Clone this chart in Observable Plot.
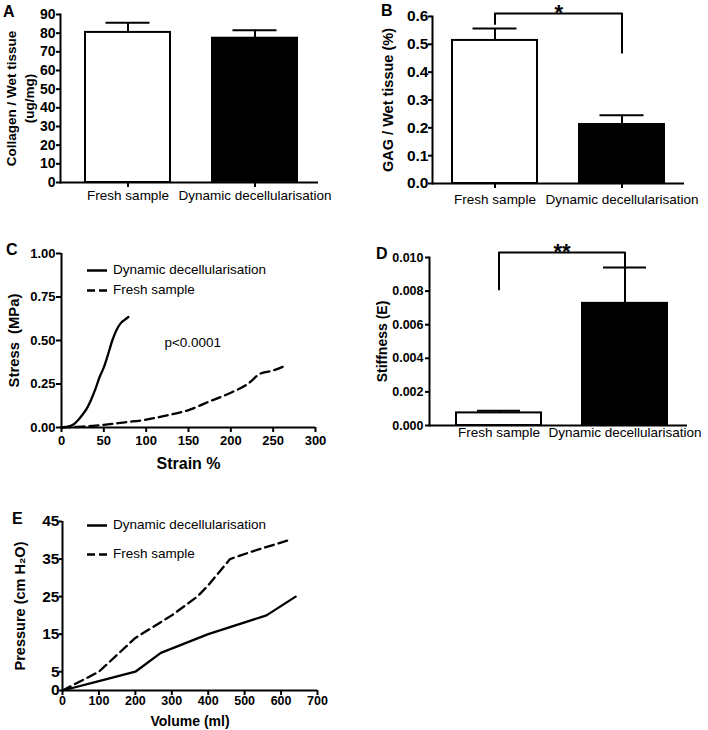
<!DOCTYPE html>
<html><head><meta charset="utf-8">
<script src="https://cdn.jsdelivr.net/npm/d3@7"></script>
<script src="https://cdn.jsdelivr.net/npm/@observablehq/plot@0.6"></script>
<style>
body{margin:0;background:#fff;}
#fig{position:relative;width:708px;height:730px;font-family:"Liberation Sans",Arial,sans-serif;color:#000;background:#fff;overflow:hidden;}
.panel{position:absolute;}
.letter{position:absolute;font-weight:bold;font-size:16px;line-height:16px;}
.leg{position:absolute;font-size:13.5px;line-height:16px;white-space:nowrap;padding-left:26px;}
.leg svg{position:absolute;left:0;top:7px;}
</style></head><body><div id="fig"></div>
<script>
// ---------- data ----------
const categories = ["Fresh sample", "Dynamic decellularisation"];

const collagenMean = [80.4, 77.3];
const collagenSem = [5.2, 4.3];
const collagenTicks = [0, 10, 20, 30, 40, 50, 60, 70, 80, 90];

const gagMean = [0.514, 0.212];
const gagSem = [0.043, 0.033];
const gagTicks = [0, 0.1, 0.2, 0.3, 0.4, 0.5, 0.6];
const gagBracket = [0.573, 0.611, 0.47];   // left foot, top, right foot
const gagStar = "*";

const stiffMean = [0.00075, 0.00727];
const stiffSem = [0.00013, 0.00213];
const stiffTicks = [0, 0.002, 0.004, 0.006, 0.008, 0.010];
const stiffBracket = [0.0081, 0.0103, 0.0094];
const stiffStar = "**";

const seriesNames = ["Dynamic decellularisation", "Fresh sample"];

const decelStrain = [0, 5, 10, 15, 20, 25, 30, 35, 40, 45, 50, 55, 60, 65, 70, 75, 79];
const decelStress = [0, 0.003, 0.008, 0.02, 0.045, 0.075, 0.11, 0.16, 0.22, 0.29, 0.345, 0.42, 0.5, 0.56, 0.6, 0.62, 0.635];
const freshStrain = [0, 25, 50, 75, 100, 125, 150, 175, 200, 220, 235, 248, 262];
const freshStress = [0, 0.005, 0.015, 0.03, 0.045, 0.07, 0.1, 0.15, 0.2, 0.25, 0.31, 0.325, 0.35];
const strainTicks = [0, 50, 100, 150, 200, 250, 300];
const stressTicks = [0, 0.25, 0.5, 0.75, 1];
const stressNote = {x: 155, y: 0.49, text: "p<0.0001"};

const decelVolume = [0, 100, 200, 270, 400, 560, 640];
const decelPressure = [0, 2.5, 5, 10, 15, 20, 25];
const freshVolume = [0, 100, 200, 300, 370, 400, 460, 520, 620];
const freshPressure = [0, 5, 14, 20, 25, 28, 35, 37, 40];
const volumeTicks = [0, 100, 200, 300, 400, 500, 600, 700];
const pressureTicks = [0, 5, 15, 25, 35, 45];

// ---------- helpers ----------
const FONT = "Liberation Sans, Arial, sans-serif";
const fig = document.getElementById("fig");

function place(node, left, top) {
  const d = document.createElement("div");
  d.className = "panel";
  d.style.left = left + "px";
  d.style.top = top + "px";
  d.appendChild(node);
  fig.appendChild(d);
}
function letter(t, left, top) {
  const d = document.createElement("div");
  d.className = "letter"; d.textContent = t;
  d.style.left = left + "px"; d.style.top = top + "px";
  fig.appendChild(d);
}
function legend(t, left, top, dashed) {
  const d = document.createElement("div");
  d.className = "leg";
  d.style.left = left + "px"; d.style.top = top + "px";
  d.innerHTML = `<svg width="20" height="3"><line x1="0" x2="20" y1="1.5" y2="1.5" stroke="black" stroke-width="2.5" ${dashed ? 'stroke-dasharray="8,4"' : ""}/></svg>`;
  d.appendChild(document.createTextNode(t));
  fig.appendChild(d);
}

function barPanel(o) {
  const data = categories.map((c, i) => ({cat: c, mean: o.means[i], sem: o.sems[i]}));
  const plotW = o.width - o.mL - o.mR;
  const step = plotW / (categories.length - o.pI + 2 * o.pO);
  const marks = [
    Plot.ruleX(data, {x: "cat", y1: "mean", y2: d => d.mean + d.sem, strokeWidth: 2}),
    Plot.tickY(data, {x: "cat", y: d => d.mean + d.sem, strokeWidth: 2, insetLeft: o.capInset, insetRight: o.capInset}),
    Plot.barY(data, {x: "cat", y: "mean", fill: "cat", stroke: "black", strokeWidth: 2}),
    Plot.ruleY([0], {strokeWidth: 2}),
    Plot.frame({anchor: "left", strokeWidth: 2}),
    Plot.axisY(o.yTicks, {tickFormat: o.yFormat, tickSize: 4, tickPadding: o.yTickPad ?? 2, fontWeight: "bold", fontSize: o.yTickFont || 13, strokeWidth: 2, label: null}),
    Plot.axisX({tickSize: o.xTickSize, tickPadding: o.xTickPad, fontSize: 13.5, fontWeight: "normal", strokeWidth: 2, label: null}),
    Plot.text([o.yLabel], {frameAnchor: "left", dx: o.labelDx, rotate: -90, fontWeight: "bold", fontSize: o.labelFont || 14, lineHeight: 1.3, textAnchor: "middle", lineAnchor: "middle"})
  ];
  if (o.bracket) {
    const b = o.bracket;
    const bd = [
      {cat: categories[0], y: b[0]}, {cat: categories[0], y: b[1]},
      {cat: categories[1], y: b[1]}, {cat: categories[1], y: b[2]}
    ];
    marks.push(Plot.line(bd, {x: "cat", y: "y", strokeWidth: 2}));
    marks.push(Plot.text([{cat: categories[0], y: b[1], t: o.star}], {x: "cat", y: "y", text: "t", dx: step / 2, dy: 7, lineAnchor: "bottom", fontSize: 22, fontWeight: "bold"}));
  }
  return Plot.plot({
    width: o.width, height: o.height,
    marginLeft: o.mL, marginRight: o.mR, marginTop: o.mT, marginBottom: o.mB,
    style: {fontFamily: FONT, color: "black", background: "transparent", overflow: "visible"},
    x: {domain: categories, type: "band", paddingInner: o.pI, paddingOuter: o.pO, align: o.align},
    y: {domain: o.yDomain},
    color: {domain: categories, range: ["white", "black"]},
    marks
  });
}

function linePanel(o) {
  const marks = [];
  o.series.forEach(s => {
    const data = s.x.map((x, i) => ({x, y: s.y[i]}));
    marks.push(Plot.line(data, {x: "x", y: "y", strokeWidth: 2.3, strokeDasharray: s.dash, curve: o.curve}));
  });
  marks.push(
    Plot.ruleY([0], {strokeWidth: 2}),
    Plot.ruleX([0], {strokeWidth: 2}),
    Plot.axisY(o.yTicks, {tickFormat: o.yFormat, tickSize: o.yTickSize, tickPadding: o.yTickPad, fontWeight: "bold", fontSize: o.yTickFont, strokeWidth: 2, label: null}),
    Plot.axisX(o.xTicks, {tickSize: 5, tickPadding: o.xTickPad, fontWeight: "bold", fontSize: o.xTickFont, strokeWidth: 2, label: null}),
    Plot.text([o.yLabel], {frameAnchor: "left", dx: o.yLabelDx, rotate: -90, fontWeight: "bold", fontSize: o.yLabelFont, textAnchor: "middle", lineAnchor: "middle"}),
    Plot.text([o.xLabel], {frameAnchor: "bottom", dy: o.xLabelDy, fontWeight: "bold", fontSize: o.xLabelFont, textAnchor: "middle", lineAnchor: "middle"})
  );
  if (o.note) marks.push(Plot.text([o.note], {x: "x", y: "y", text: "text", fontSize: 13.5}));
  return Plot.plot({
    width: o.width, height: o.height,
    marginLeft: o.mL, marginRight: o.mR, marginTop: o.mT, marginBottom: o.mB,
    style: {fontFamily: FONT, color: "black", background: "transparent", overflow: "visible"},
    x: {domain: o.xDomain},
    y: {domain: o.yDomain},
    marks
  });
}

// ---------- panel A ----------
place(barPanel({
  means: collagenMean, sems: collagenSem, yTicks: collagenTicks, yFormat: d3.format("d"), yDomain: [0, 90],
  width: 330, height: 215, mL: 60, mR: 12, mT: 14, mB: 33,
  pI: 0.331, pO: 0.181, align: 0.54, capInset: 20.5, xTickSize: 5, xTickPad: 3, yTickFont: 14, yTickPad: 1,
  yLabel: "Collagen / Wet tissue\n(ug/mg)", labelDx: -41, labelFont: 13.5
}), 0, 0);
letter("A", 3, 4);

// ---------- panel B ----------
place(barPanel({
  means: gagMean, sems: gagSem, yTicks: gagTicks, yFormat: d3.format(".1f"), yDomain: [0, 0.6],
  width: 340, height: 216, mL: 78, mR: 10, mT: 16, mB: 33,
  pI: 0.333, pO: 0.155, align: 0.506, capInset: 20.5, xTickSize: 5, xTickPad: 6, yTickFont: 15.5, yTickPad: 0,
  yLabel: "GAG / Wet tissue (%)", labelDx: -46, labelFont: 14.5,
  bracket: gagBracket, star: gagStar
}), 354, 0);
letter("B", 381, 3);

// ---------- panel C ----------
place(linePanel({
  series: [
    {x: decelStrain, y: decelStress, dash: null},
    {x: freshStrain, y: freshStress, dash: "9,5"}
  ],
  curve: "monotone-x",
  xDomain: [0, 300], yDomain: [0, 1], xTicks: strainTicks, yTicks: stressTicks, yFormat: d3.format(".2f"),
  width: 330, height: 250, mL: 61, mR: 15, mT: 23, mB: 53, xTickPad: 3, xTickFont: 13,
  yTickSize: 5, yTickPad: 1, yTickFont: 13,
  yLabel: "Stress\u00a0\u00a0(MPa)", yLabelDx: -47, yLabelFont: 14.8,
  xLabel: "Strain %", xLabelDy: 36, xLabelFont: 16,
  note: stressNote
}), 0, 230);
letter("C", 6, 242);
legend(seriesNames[0], 87, 262, false);
legend(seriesNames[1], 87, 282, true);

// ---------- panel D ----------
place(barPanel({
  means: stiffMean, sems: stiffSem, yTicks: stiffTicks, yFormat: d3.format(".3f"), yDomain: [0, 0.010],
  width: 340, height: 225, mL: 75, mR: 7, mT: 27, mB: 30,
  pI: 0.325, pO: 0.186, align: 0.574, capInset: 21, xTickSize: 0, xTickPad: 2, yTickFont: 12.5,
  yLabel: "Stiffness (E)", labelDx: -48, labelFont: 14,
  bracket: stiffBracket, star: stiffStar
}), 354, 230);
letter("D", 376, 246);

// ---------- panel E ----------
place(linePanel({
  series: [
    {x: decelVolume, y: decelPressure, dash: null},
    {x: freshVolume, y: freshPressure, dash: "9,5"}
  ],
  curve: "linear",
  xDomain: [0, 700], yDomain: [0, 45], xTicks: volumeTicks, yTicks: pressureTicks, yFormat: d3.format("d"),
  width: 330, height: 225, mL: 62, mR: 13, mT: 16, mB: 40, xTickPad: 1, xTickFont: 12.5,
  yTickSize: 3, yTickPad: 0, yTickFont: 15.5,
  yLabel: "Pressure (cm H\u2082O)", yLabelDx: -42, yLabelFont: 14.5,
  xLabel: "Volume (ml)", xLabelDy: 31, xLabelFont: 14
}), 0, 505);
letter("E", 12, 511);
legend(seriesNames[0], 87, 517, false);
legend(seriesNames[1], 87, 546, true);
</script></body></html>
